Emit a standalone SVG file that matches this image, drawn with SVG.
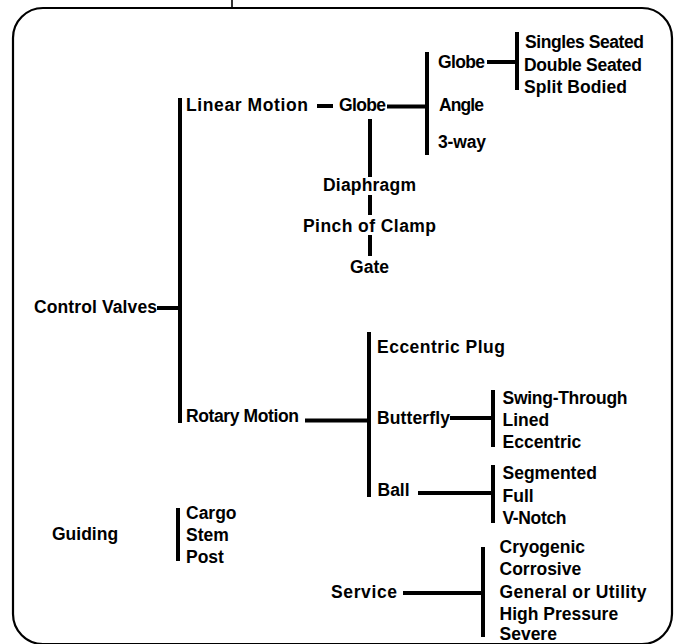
<svg xmlns="http://www.w3.org/2000/svg" width="676" height="644" viewBox="0 0 676 644">
<style>
text{font-family:"Liberation Sans",Arial,Helvetica,sans-serif;font-weight:bold;font-size:17.5px;fill:#000}
.mid{text-anchor:middle}
.frame{fill:none;stroke:#000;stroke-width:2.2}
.c line{stroke:#000;stroke-width:4}
</style>
<rect width="676" height="644" fill="#fff"/>
<g id="frame">
<line x1="232" y1="0" x2="232" y2="8" stroke="#000" stroke-width="1.6"/>
<rect class="frame" x="13" y="8" width="659" height="636" rx="30" ry="30"/>
</g>
<g class="c" id="connectors">
<line x1="157" y1="308" x2="180" y2="308"/>
<line x1="180" y1="98" x2="180" y2="423"/>
<line x1="317" y1="106" x2="333" y2="106"/>
<line x1="387" y1="106.5" x2="427" y2="106.5"/>
<line x1="427" y1="52" x2="427" y2="155"/>
<line x1="487" y1="62" x2="517" y2="62"/>
<line x1="517" y1="32" x2="517" y2="90"/>
<line x1="370" y1="119" x2="370" y2="177"/>
<line x1="370" y1="195" x2="370" y2="215"/>
<line x1="370" y1="235" x2="370" y2="256"/>
<line x1="305" y1="420.5" x2="369" y2="420.5"/>
<line x1="369" y1="332" x2="369" y2="497"/>
<line x1="450" y1="418" x2="493" y2="418"/>
<line x1="493" y1="390" x2="493" y2="447"/>
<line x1="418" y1="493" x2="493" y2="493"/>
<line x1="493" y1="465" x2="493" y2="523"/>
<line x1="403" y1="593" x2="483" y2="593"/>
<line x1="483" y1="547" x2="483" y2="637"/>
<line x1="178" y1="508" x2="178" y2="561"/>
</g>
<g id="control-valves"><text x="34" y="313" textLength="123" lengthAdjust="spacing">Control Valves</text></g>
<g id="linear-motion"><text x="186" y="110.5" textLength="122" lengthAdjust="spacing">Linear Motion</text></g>
<g id="globe"><text x="339" y="110.5" textLength="47" lengthAdjust="spacing">Globe</text></g>
<g id="globe-2"><text x="438" y="68" textLength="47" lengthAdjust="spacing">Globe</text></g>
<g id="globe-types">
<text x="525" y="48" textLength="119" lengthAdjust="spacing">Singles Seated</text>
<text x="524" y="70.5" textLength="118" lengthAdjust="spacing">Double Seated</text>
<text x="524" y="93" textLength="103" lengthAdjust="spacing">Split Bodied</text>
</g>
<g id="angle"><text x="439" y="111" textLength="45" lengthAdjust="spacing">Angle</text></g>
<g id="three-way"><text x="438" y="148" textLength="48" lengthAdjust="spacing">3-way</text></g>
<g id="diaphragm"><text class="mid" x="369.5" y="190.5" textLength="93" lengthAdjust="spacing">Diaphragm</text></g>
<g id="pinch"><text class="mid" x="369.5" y="231.5" textLength="133" lengthAdjust="spacing">Pinch of Clamp</text></g>
<g id="gate"><text class="mid" x="369.5" y="273" textLength="39" lengthAdjust="spacing">Gate</text></g>
<g id="rotary-motion"><text x="186" y="422" textLength="113" lengthAdjust="spacing">Rotary Motion</text></g>
<g id="eccentric-plug"><text x="377" y="352.5" textLength="128" lengthAdjust="spacing">Eccentric Plug</text></g>
<g id="butterfly"><text x="377" y="424" textLength="73" lengthAdjust="spacing">Butterfly</text></g>
<g id="butterfly-types">
<text x="502.5" y="404" textLength="125" lengthAdjust="spacing">Swing-Through</text>
<text x="502.5" y="425.5">Lined</text>
<text x="502.5" y="448">Eccentric</text>
</g>
<g id="ball"><text x="377.5" y="495.5">Ball</text></g>
<g id="ball-types">
<text x="502.5" y="479">Segmented</text>
<text x="502.5" y="501.5">Full</text>
<text x="502.5" y="524" textLength="64" lengthAdjust="spacing">V-Notch</text>
</g>
<g id="guiding"><text x="52" y="540">Guiding</text></g>
<g id="guiding-types">
<text x="186" y="519">Cargo</text>
<text x="186" y="541">Stem</text>
<text x="186" y="563">Post</text>
</g>
<g id="service"><text x="331" y="598" textLength="66" lengthAdjust="spacing">Service</text></g>
<g id="service-types">
<text x="499.5" y="552.5">Cryogenic</text>
<text x="499.5" y="575">Corrosive</text>
<text x="499.5" y="598" textLength="147" lengthAdjust="spacing">General or Utility</text>
<text x="499.5" y="619.5">High Pressure</text>
<text x="499.5" y="640">Severe</text>
</g>
</svg>
